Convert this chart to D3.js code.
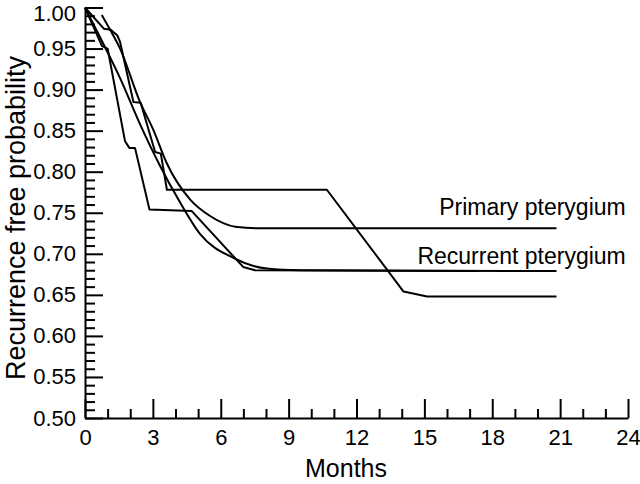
<!DOCTYPE html>
<html>
<head>
<meta charset="utf-8">
<script src="https://cdn.jsdelivr.net/npm/d3@7/dist/d3.min.js"></script>
<style>
  body { margin: 0; background: #fff; }
  svg { display: block; }
  text { font-family: "Liberation Sans", Arial, Helvetica, sans-serif; fill: #000; }
</style>
</head>
<body>
<div id="chart"></div>
<script>
// ---------------- DATA ----------------
const xMajorTicks = [0, 3, 6, 9, 12, 15, 18, 21, 24];
const yMajorTicks = [0.50, 0.55, 0.60, 0.65, 0.70, 0.75, 0.80, 0.85, 0.90, 0.95, 1.00];

// step-like observed curve that ends lowest
const observedA = [
  [0, 1.0], [0.84, 0.974], [1.14, 0.973], [1.43, 0.966], [1.55, 0.958],
  [2.14, 0.885], [2.46, 0.884], [3.10, 0.824], [3.35, 0.822], [3.62, 0.778],
  [10.69, 0.778], [14.08, 0.654], [15.12, 0.648], [20.84, 0.648]
];
// step-like observed curve that ends at the recurrent level
const observedB = [
  [0, 1.0], [0.75, 0.953], [1.0, 0.950], [1.77, 0.837], [1.96, 0.829],
  [2.21, 0.829], [2.85, 0.754], [4.72, 0.752], [6.99, 0.684], [7.52, 0.680],
  [20.84, 0.679]
];
// smooth fitted curves
const fitPrimary = [
  [0.74, 0.991], [1.11, 0.973], [1.55, 0.950], [2.43, 0.885], [3.02, 0.851],
  [3.62, 0.810], [4.65, 0.766], [5.53, 0.746], [6.64, 0.733], [7.74, 0.731],
  [20.84, 0.731]
];
const fitRecurrent = [
  [0, 1.0], [0.66, 0.964], [1.55, 0.914], [2.43, 0.858], [3.32, 0.807],
  [4.13, 0.766], [5.09, 0.724], [6.56, 0.695], [8.04, 0.682], [9.51, 0.680],
  [17.39, 0.679]
];

const seriesLabels = [
  { text: "Primary pterygium", m: 23.9, p: 0.747 },
  { text: "Recurrent pterygium", m: 23.9, p: 0.688 }
];

// ---------------- SPACE SETUP ----------------
const W = 640, H = 484;
const margin = { top: 7.5, right: 12, bottom: 66, left: 85 };
const width = 628 - margin.left;
const height = 418 - margin.top;

const x = d3.scaleLinear().domain([0, 24]).range([0, width]);
const y = d3.scaleLinear().domain([0.5, 1.0]).range([height, 0]);

const svg = d3.select("#chart").append("svg")
    .attr("width", W)
    .attr("height", H);

const g = svg.append("g")
    .attr("transform", `translate(${margin.left}, ${margin.top})`);

// ---------------- AXES ----------------
const yMinor = d3.range(0, 51).map(i => 0.5 + i * 0.01).filter(v => !yMajorTicks.some(t => Math.abs(t - v) < 1e-6));
const xMinor = d3.range(0, 25).filter(v => v % 3 !== 0);

g.append("g")
    .attr("class", "y minor")
    .call(d3.axisLeft(y).tickValues(yMinor).tickSizeInner(-10).tickSizeOuter(0).tickFormat(""))
    .call(a => a.select(".domain").remove());

const yAxisG = g.append("g")
    .attr("class", "y axis")
    .call(d3.axisLeft(y).tickValues(yMajorTicks).tickSizeInner(-18).tickSizeOuter(0)
        .tickPadding(9).tickFormat(d3.format(".2f")));

g.append("g")
    .attr("class", "x minor")
    .attr("transform", `translate(0, ${height})`)
    .call(d3.axisBottom(x).tickValues(xMinor).tickSizeInner(-9).tickSizeOuter(0).tickFormat(""))
    .call(a => a.select(".domain").remove());

g.append("g")
    .attr("class", "x axis")
    .attr("transform", `translate(0, ${height})`)
    .call(d3.axisBottom(x).tickValues(xMajorTicks).tickSizeInner(-19).tickSizeOuter(0)
        .tickPadding(11).tickFormat(d3.format("d")));

g.selectAll(".tick line, .domain")
    .attr("stroke", "#000")
    .attr("stroke-width", 2);
g.selectAll(".tick text")
    .style("font-size", "22px")
    .attr("fill", "#000");

// keep the top label inside the picture
yAxisG.selectAll(".tick text")
    .filter(d => d === 1.0)
    .attr("y", 5.5);

// axis titles
svg.append("text")
    .attr("x", 346)
    .attr("y", 477)
    .attr("text-anchor", "middle")
    .style("font-size", "25px")
    .text("Months");

svg.append("text")
    .attr("transform", `translate(25, 218) rotate(-90)`)
    .attr("text-anchor", "middle")
    .style("font-size", "27px")
    .text("Recurrence free probability");

// ---------------- LINES ----------------
const stepLine = d3.line()
    .x(d => x(d[0]))
    .y(d => y(d[1]));

const smoothLine = d3.line()
    .x(d => x(d[0]))
    .y(d => y(d[1]))
    .curve(d3.curveMonotoneX);

[observedA, observedB].forEach(data => {
  g.append("path")
      .datum(data)
      .attr("fill", "none")
      .attr("stroke", "#000")
      .attr("stroke-width", 2)
      .attr("stroke-linejoin", "round")
      .attr("d", stepLine);
});

[fitPrimary, fitRecurrent].forEach(data => {
  g.append("path")
      .datum(data)
      .attr("fill", "none")
      .attr("stroke", "#000")
      .attr("stroke-width", 2)
      .attr("d", smoothLine);
});

// ---------------- LABELS ----------------
g.selectAll(".series-label")
    .data(seriesLabels)
    .enter().append("text")
      .attr("class", "series-label")
      .attr("x", d => x(d.m))
      .attr("y", d => y(d.p))
      .attr("text-anchor", "end")
      .style("font-size", "23px")
      .text(d => d.text);
</script>
</body>
</html>
